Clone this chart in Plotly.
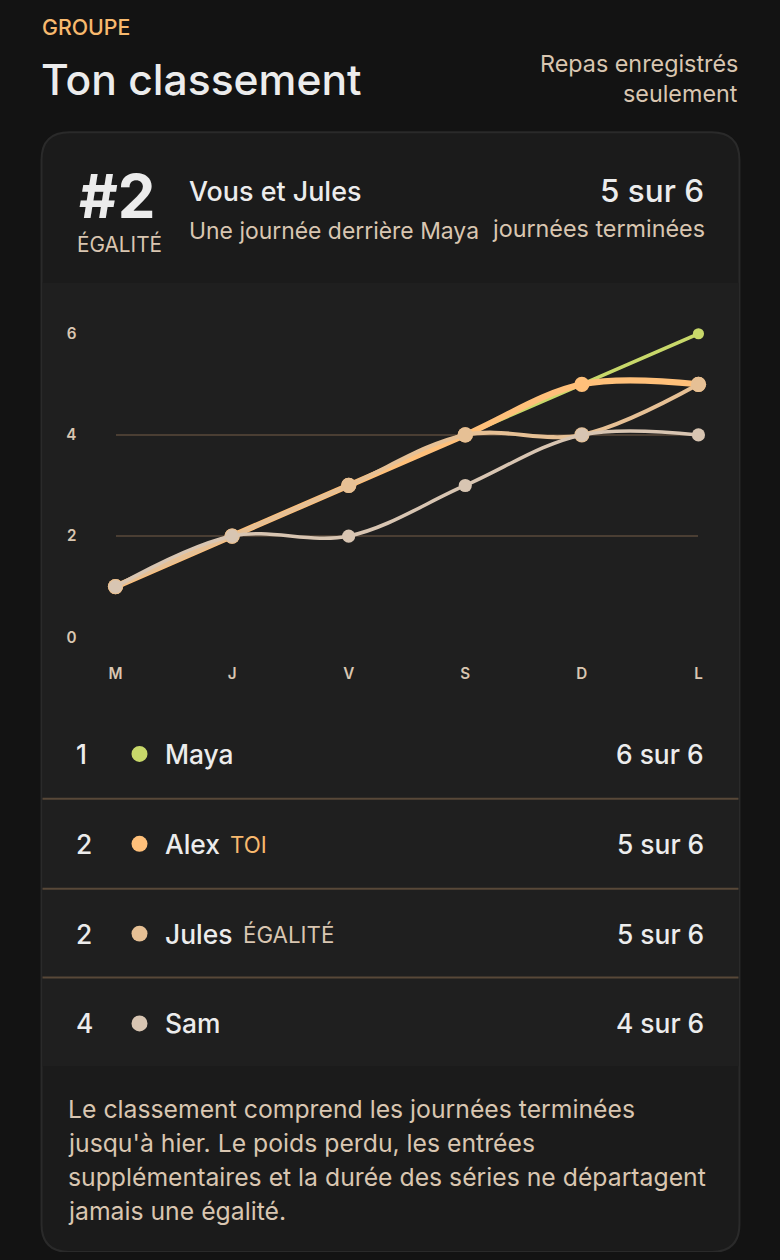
import plotly.graph_objects as go

# ---------------- data ----------------
days = ["M", "J", "V", "S", "D", "L"]
maya = [1, 2, 3, 4, 5, 6]
alex = [1, 2, 3, 4, 5, 5]
jules = [1, 2, 3, 4, 4, 5]
sam = [1, 2, 2, 3, 4, 4]
y_ticks = [0, 2, 4, 6]

names = ["Maya", "Alex", "Jules", "Sam"]
ranks = [1, 2, 2, 4]
tags = ["", "TOI", "ÉGALITÉ", ""]
scores = [maya[-1], alex[-1], jules[-1], sam[-1]]
total_days = len(days)

# ---------------- style ----------------
PAGE_W, PAGE_H = 780, 1260
BODY_MARGIN = 8
W, H = PAGE_W - 2 * BODY_MARGIN, PAGE_H - 2 * BODY_MARGIN
# calibration of the photographed page (observed: shown = a * page + b)
AX, BX = 0.9857, 6.6
AY, BY = 0.9866, 8.75
S = 1 / AX  # size compensation

FONT = "Inter"
PAGE_BG = "#131313"
CARD_BG = "#1b1b1b"
PANEL_BG = "#1f1f1f"
BORDER = "#2a2a2a"
GRID = "#4a3e33"
SEP = "#584838"
WHITE = "#ececec"
BEIGE = "#d9c6b1"
ORANGE = "#f7b96e"
colors = {"Maya": "#c8d86a", "Alex": "#ffc07a", "Jules": "#e6c095", "Sam": "#d8c5b2"}
tag_colors = {"TOI": ORANGE, "ÉGALITÉ": BEIGE}
tag_x = {"TOI": 228, "ÉGALITÉ": 241}


def fx(x):  # target picture x -> figure pixel
    return (x - BX) / AX - BODY_MARGIN


def fy(y):
    return (y - BY) / AY - BODY_MARGIN


def px(x):
    return fx(x) / W


def py(y):
    return 1 - fy(y) / H


fig = go.Figure()

# draw order: Maya bottom, Alex, Jules, Sam top
series = [
    ("Maya", maya, 3.5, 11),
    ("Alex", alex, 6, 15),
    ("Jules", jules, 4, 15),
    ("Sam", sam, 3.5, 13),
]
for name, vals, lw, ms in series:
    fig.add_trace(go.Scatter(
        x=days, y=vals, name=name, mode="lines+markers",
        line=dict(color=colors[name], width=lw * S, shape="spline", smoothing=1.0),
        marker=dict(color=colors[name], size=ms * S),
        cliponaxis=False, showlegend=False, hoverinfo="skip",
    ))

shapes = []


def rounded_rect(x0, y0, x1, y1, r, fill, line_color, lw):
    X = px
    Y = py
    path = (
        f"M {X(x0 + r)},{Y(y0)} L {X(x1 - r)},{Y(y0)} "
        f"Q {X(x1)},{Y(y0)} {X(x1)},{Y(y0 + r)} "
        f"L {X(x1)},{Y(y1 - r)} Q {X(x1)},{Y(y1)} {X(x1 - r)},{Y(y1)} "
        f"L {X(x0 + r)},{Y(y1)} Q {X(x0)},{Y(y1)} {X(x0)},{Y(y1 - r)} "
        f"L {X(x0)},{Y(y0 + r)} Q {X(x0)},{Y(y0)} {X(x0 + r)},{Y(y0)} Z"
    )
    return dict(type="path", xref="paper", yref="paper", path=path,
                fillcolor=fill, line=dict(color=line_color, width=lw), layer="below")


shapes.append(rounded_rect(41, 131, 739, 1253, 28, CARD_BG, BORDER, 2))
# panel band (chart + rows)
shapes.append(dict(type="rect", xref="paper", yref="paper",
                   x0=px(42), x1=px(738), y0=py(1067), y1=py(282),
                   fillcolor=PANEL_BG, line=dict(width=0), layer="below"))
# row separators
for ysep in [799, 889, 978]:
    shapes.append(dict(type="line", xref="paper", yref="paper",
                       x0=px(42), x1=px(738), y0=py(ysep), y1=py(ysep),
                       line=dict(color=SEP, width=2)))

ann = []


def text(x, y, s, size, color, anchor="left", weight=None):
    f = dict(family=FONT, size=size * S, color=color)
    if weight:
        f["weight"] = weight
    ann.append(dict(xref="paper", yref="paper", x=px(x), y=py(y), text=s,
                    showarrow=False, xanchor=anchor, yanchor="middle", font=f))


# header
text(39, 26, "GROUPE", 21, ORANGE, weight=500)
text(38, 78, "Ton classement", 42, WHITE, weight=500)
text(740, 62, "Repas enregistrés", 23, BEIGE, "right")
text(740, 92, "seulement", 23, BEIGE, "right")

# card header
text(117, 195, "#2", 59, WHITE, "center", weight=700)
text(119, 243, "ÉGALITÉ", 20.5, BEIGE, "center")
text(187, 190, "Vous et Jules", 26.5, WHITE, weight=500)
text(187, 230, "Une journée derrière Maya", 22.6, BEIGE)
text(706, 190, f"{alex[-1]} sur {total_days}", 31, WHITE, "right", weight=500)
text(707, 228, "journées terminées", 23, BEIGE, "right")

# ranking rows
row_y = [754, 844, 934, 1024]
for i, name in enumerate(names):
    yy = row_y[i]
    text(73, yy, str(ranks[i]), 26, WHITE, weight=500)
    shapes.append(dict(type="circle", xref="paper", yref="paper",
                       x0=px(131), x1=px(147), y0=py(yy + 8), y1=py(yy - 8),
                       fillcolor=colors[name], line=dict(width=0)))
    text(163, yy, name, 26, WHITE, weight=500)
    if tags[i]:
        text(tag_x[tags[i]], yy + 1, tags[i], 22, tag_colors[tags[i]])
    text(706, yy, f"{scores[i]} sur {total_days}", 26, WHITE, "right", weight=500)

# footer text
footer = [
    "Le classement comprend les journées terminées",
    "jusqu'à hier. Le poids perdu, les entrées",
    "supplémentaires et la durée des séries ne départagent",
    "jamais une égalité.",
]
for i, line in enumerate(footer):
    text(65, 1110 + i * 34, line, 24.4, BEIGE)

fig.update_layout(
    width=W, height=H,
    margin=dict(l=0, r=0, t=0, b=0),
    paper_bgcolor=PAGE_BG, plot_bgcolor="rgba(0,0,0,0)",
    shapes=shapes, annotations=ann,
    font=dict(family=FONT, color=BEIGE),
    xaxis=dict(domain=[px(115), px(698)], range=[0, 5], type="category",
               showgrid=False, zeroline=False, showline=False, ticks="",
               tickfont=dict(family=FONT, size=15 * S, color=BEIGE, weight=600),
               ticklabelstandoff=int(round(26 * S)), fixedrange=True),
    yaxis=dict(domain=[py(637), py(333)], range=[0, 6], tickvals=y_ticks,
               showgrid=True, gridcolor=GRID, gridwidth=2, zeroline=False,
               showline=False, ticks="",
               tickfont=dict(family=FONT, size=15 * S, color=BEIGE, weight=600),
               ticklabelstandoff=int(round(37 * S)), fixedrange=True),
)

fig.write_html(
    "out.html",
    config={"displayModeBar": False},
    post_script="document.body.style.background='#131313';",
)
